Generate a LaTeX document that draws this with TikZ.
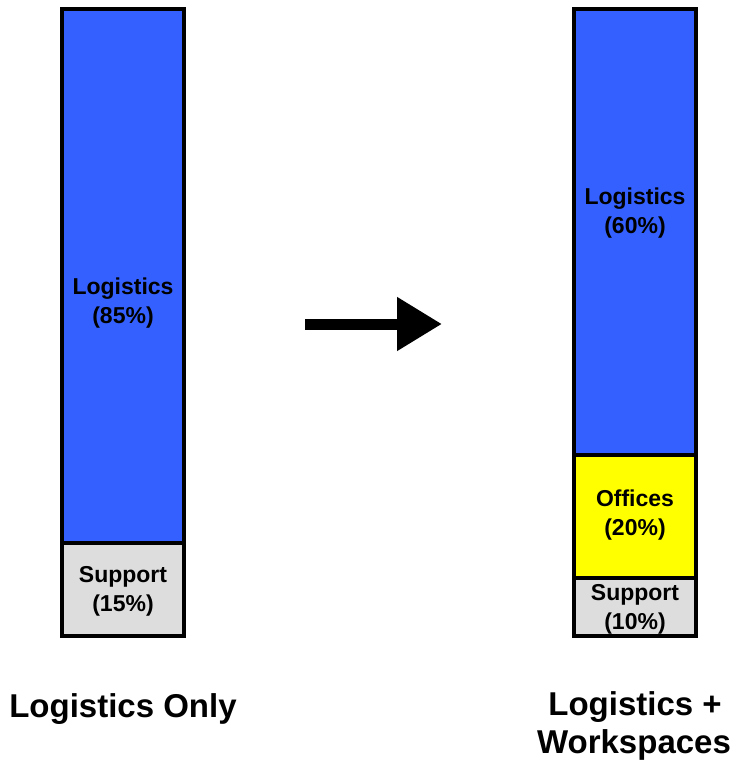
\documentclass[tikz,border=0pt]{standalone}
\usepackage{fontspec}
\setmainfont{Liberation Sans}
\usepackage{tikz}
\usetikzlibrary{arrows.meta,positioning}
\definecolor{logblue}{RGB}{51,96,255}
\definecolor{offyellow}{RGB}{255,255,0}
\definecolor{supgray}{RGB}{221,221,221}

\begin{document}
\begin{tikzpicture}[
    x=1pt, y=-1pt,
    font=\bfseries,
    segment/.style={
		rectangle,
		draw=black,
		line width=4pt,
		minimum width=122pt,
		inner sep=0pt,
		outer sep=0pt,
		anchor=north west
	},
	barlabel/.style={
		align=center,
		inner sep=0pt,
		font=\bfseries\fontsize{23}{29}\selectfont
	},
	caption/.style={
		align=center,
		inner sep=0pt,
		font=\bfseries\fontsize{33}{38}\selectfont
	}
  ]
  \useasboundingbox (0,0) rectangle (738,766);

    % We start by placing the blocks
  \node [segment, fill=logblue, minimum height=534pt] (leftlog) at (62,9) {};
  \node [segment, fill=supgray, minimum height=93pt] (leftsup) at (62,543) {};

  \node [segment, fill=logblue, minimum height=446pt] (rightlog) at (574,9) {};
  \node [segment, fill=offyellow, minimum height=123pt] (rightoff) at (574,455) {};
  \node [segment, fill=supgray, minimum height=58pt] (rightsup) at (574,578) {};

  % labels inside the bars
  \node [barlabel] (leftloglabel) at (123,303) {Logistics\\(85\%)};
  \node [barlabel] (leftsuplabel) at (123,591) {Support\\(15\%)};
  \node [barlabel] (rightloglabel) at (635,213) {Logistics\\(60\%)};
  \node [barlabel] (rightofflabel) at (635,515) {Offices\\(20\%)};
  \node [barlabel] (rightsuplabel) at (635,609) {Support\\(10\%)};

  % captions
  \node [caption, anchor=base] (leftcap) at (123,717) {Logistics Only};
  \node [caption, anchor=base] (rightcap) at (635,715) {Logistics +};
  \node [caption, anchor=base] (rightcap2) at (634,753) {Workspaces};

  \coordinate (arrowstart) at (305,324);
  \coordinate (arrowend) at (442,324);
  \draw [line width=11pt, -{Triangle[length=45pt,width=51pt]}] (arrowstart) -- (arrowend);

\end{tikzpicture}
\end{document}
